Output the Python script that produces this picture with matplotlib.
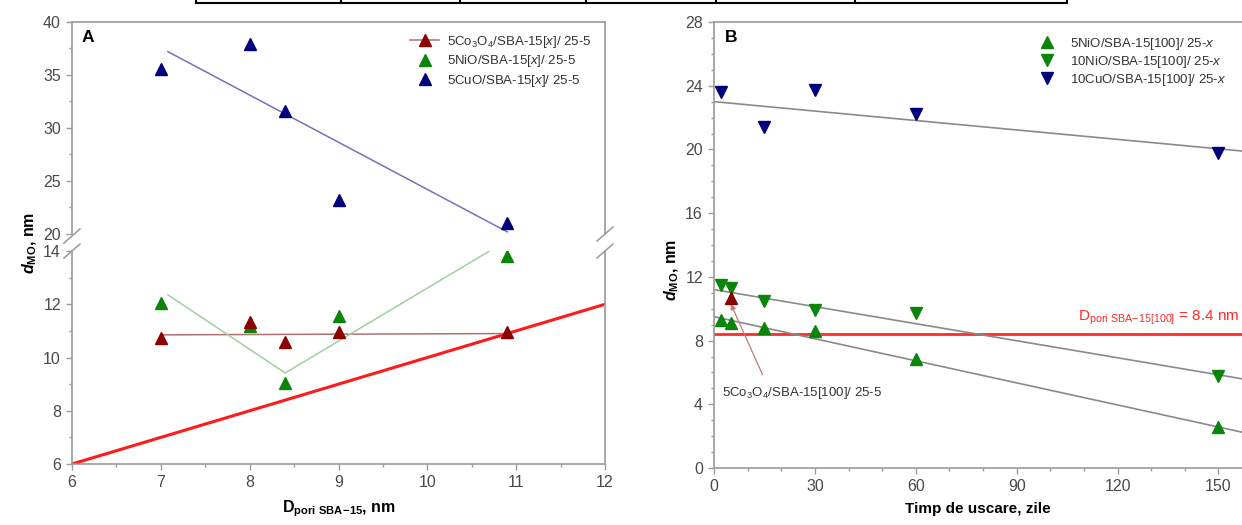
import matplotlib
matplotlib.use("Agg")
import matplotlib.pyplot as plt
from matplotlib.lines import Line2D
from matplotlib.ticker import MultipleLocator

plt.rcParams["font.family"] = ["Liberation Sans", "DejaVu Sans"]
plt.rcParams["mathtext.fontset"] = "custom"
plt.rcParams["mathtext.rm"] = "Liberation Sans"
plt.rcParams["mathtext.it"] = "Liberation Sans:bold:italic"
plt.rcParams["mathtext.bf"] = "Liberation Sans:bold"
plt.rcParams["mathtext.sf"] = "Liberation Sans:italic"

# panel A: crystallite size vs pore diameter of the support
pore_a = [7, 8, 8.4, 9, 10.9]
co_a = [10.75, 11.35, 10.6, 10.95, 10.95]
ni_a = [12.05, 11.2, 9.05, 11.55, 13.8]
cu_a = [35.6, 37.9, 31.6, 23.2, 21.0]

co_fit_x, co_fit_y = [7.0, 10.9], [10.85, 10.9]
ni_fit_x, ni_fit_y = [7.08, 8.4, 10.9], [12.35, 9.42, 14.4]
cu_fit_x, cu_fit_y = [7.08, 10.9], [37.2, 20.2]
diag_x = [6, 12]

# panel B: crystallite size vs drying time
days_ni5 = [2, 5, 15, 30, 60, 150]
ni5 = [9.3, 9.1, 8.8, 8.6, 6.85, 2.55]
days_ni10 = [2, 5, 15, 30, 60, 150]
ni10 = [11.5, 11.3, 10.5, 9.9, 9.7, 5.75]
days_cu10 = [2, 15, 30, 60, 150]
cu10 = [23.6, 21.4, 23.7, 22.2, 19.8]
days_co5, co5 = [5], [10.7]

fit_x_b = [0, 157]
cu10_fit = [23.0, 19.9]
ni10_fit = [11.2, 5.6]
ni5_fit = [9.5, 2.25]
pore_b = 8.4

RED_D = "#8b0000"
GREEN = "#0a850a"
NAVY = "#00007a"
SPINE = "#9a9a9a"
TICKC = "#4a4a4a"
W, H = 1242, 525

fig = plt.figure(figsize=(W / 100, H / 100), dpi=100)


def box(x0, y0, x1, y1):
    return [x0 / W, 1 - y1 / H, (x1 - x0) / W, (y1 - y0) / H]


ax_top = fig.add_axes(box(72, 22, 605, 234))
ax_bot = fig.add_axes(box(72, 251, 605, 464))
ax_b = fig.add_axes(box(714, 22, 1242, 468))


def style(ax):
    for s in ax.spines.values():
        s.set_color(SPINE)
        s.set_linewidth(1.2)
    ax.tick_params(which="both", direction="out", color=SPINE, labelcolor=TICKC,
                   labelsize=11.5, width=1)
    ax.tick_params(which="major", length=4, pad=4)
    ax.tick_params(which="minor", length=2.5)
    ax.tick_params(top=False, right=False)


for ax in (ax_top, ax_bot, ax_b):
    style(ax)

# ----- panel A -----
ax_top.set_xlim(6, 12)
ax_top.set_ylim(20, 40)
ax_top.yaxis.set_major_locator(MultipleLocator(5))
ax_top.yaxis.set_minor_locator(MultipleLocator(2.5))
ax_top.spines["bottom"].set_visible(False)
ax_top.tick_params(axis="x", which="both", bottom=False, labelbottom=False)

ax_bot.set_xlim(6, 12)
ax_bot.set_ylim(6, 14)
ax_bot.yaxis.set_major_locator(MultipleLocator(2))
ax_bot.yaxis.set_minor_locator(MultipleLocator(1))
ax_bot.xaxis.set_major_locator(MultipleLocator(1))
ax_bot.xaxis.set_minor_locator(MultipleLocator(0.5))
ax_bot.spines["top"].set_visible(False)

ax_bot.plot(diag_x, diag_x, color="#ff1a1a", lw=2.2, zorder=2)
ax_bot.plot(co_fit_x, co_fit_y, color="#b07070", lw=1.1, zorder=2)
ax_bot.plot(ni_fit_x, ni_fit_y, color="#9fd09f", lw=1.1, zorder=2)
ax_top.plot(cu_fit_x, cu_fit_y, color="#7272bc", lw=1.1, zorder=2)

ax_bot.plot(pore_a, ni_a, "^", color=GREEN, ms=8, zorder=3)
ax_bot.plot(pore_a, co_a, "^", color=RED_D, ms=8, zorder=4)
ax_top.plot(pore_a, cu_a, "^", color=NAVY, ms=8, zorder=3)

ax_top.text(0.018, 0.925, "A", transform=ax_top.transAxes, fontsize=12.5,
            fontweight="bold", va="center")

handles_a = [
    Line2D([], [], color="#b07070", lw=1.1, marker="^", mfc=RED_D, mec=RED_D, ms=8),
    Line2D([], [], ls="none", marker="^", color=GREEN, ms=8),
    Line2D([], [], ls="none", marker="^", color=NAVY, ms=8),
]
labels_a = [r"5Co$_3$O$_4$/SBA-15[$\mathsf{x}$]/ 25-5",
            r"5NiO/SBA-15[$\mathsf{x}$]/ 25-5",
            r"5CuO/SBA-15[$\mathsf{x}$]/ 25-5"]
fig.legend(handles_a, labels_a, loc="upper left", bbox_to_anchor=(410 / W, 1 - 34 / H),
           frameon=False, fontsize=9.5, handlelength=2.2, handletextpad=0.6,
           labelspacing=0.25, borderpad=0, borderaxespad=0, labelcolor="#333333")

ax_bot.set_xlabel(r"D$_{\mathbf{pori\ SBA\!-\!15}}$, nm", fontsize=11.5, fontweight="bold",
                  labelpad=6)
fig.text(30 / W, 1 - 243 / H, r"$\mathit{d}_{\mathbf{MO}}$, nm", rotation=90,
         fontsize=11.5, fontweight="bold", ha="center", va="center")

# axis break marks
for (px, py) in [(72, 236), (72, 251), (605, 234), (605, 251)]:
    fig.add_artist(Line2D([(px - 8) / W, (px + 8) / W], [1 - (py + 7) / H, 1 - (py - 7) / H],
                          color=SPINE, lw=1.1))

# ----- panel B -----
ax_b.set_xlim(0, 157)
ax_b.set_ylim(0, 28)
ax_b.xaxis.set_major_locator(MultipleLocator(30))
ax_b.xaxis.set_minor_locator(MultipleLocator(10))
ax_b.yaxis.set_major_locator(MultipleLocator(4))
ax_b.yaxis.set_minor_locator(MultipleLocator(1))
ax_b.spines["right"].set_visible(False)

ax_b.axhline(pore_b, color="#ff2a2a", lw=2, zorder=2)
ax_b.plot(fit_x_b, cu10_fit, color="#8a8a8a", lw=1.2, zorder=2)
ax_b.plot(fit_x_b, ni10_fit, color="#8a8a8a", lw=1.2, zorder=2)
ax_b.plot(fit_x_b, ni5_fit, color="#8a8a8a", lw=1.2, zorder=2)

ax_b.plot(days_ni5, ni5, "^", color=GREEN, ms=8, zorder=3, clip_on=False)
ax_b.plot(days_ni10, ni10, "v", color=GREEN, ms=8, zorder=3, clip_on=False)
ax_b.plot(days_cu10, cu10, "v", color=NAVY, ms=8, zorder=3, clip_on=False)
ax_b.plot(days_co5, co5, "^", color=RED_D, ms=8, zorder=4)

ax_b.text(0.02, 0.965, "B", transform=ax_b.transAxes, fontsize=12.5,
          fontweight="bold", va="center")
ax_b.text(156.3, 8.85, r"D$_{\mathrm{pori\ SBA\!-\!15[100]}}$ = 8.4 nm", color="#ff2a2a",
          fontsize=11, va="bottom", ha="right")
ax_b.annotate(r"5Co$_3$O$_4$/SBA-15[100]/ 25-5", xy=(days_co5[0], co5[0] - 0.4),
              xytext=(2.5, 4.7), fontsize=9.5, color="#333333", va="center", ha="left",
              arrowprops=dict(arrowstyle="-|>", color="#c07a7a", lw=0.9,
                              shrinkA=6, shrinkB=0, mutation_scale=8,
                              relpos=(0.28, 1.0)))

handles_b = [
    Line2D([], [], ls="none", marker="^", color=GREEN, ms=8),
    Line2D([], [], ls="none", marker="v", color=GREEN, ms=8),
    Line2D([], [], ls="none", marker="v", color=NAVY, ms=8),
]
labels_b = [r"5NiO/SBA-15[100]/ 25-$\mathsf{x}$",
            r"10NiO/SBA-15[100]/ 25-$\mathsf{x}$",
            r"10CuO/SBA-15[100]/ 25-$\mathsf{x}$"]
fig.legend(handles_b, labels_b, loc="upper left", bbox_to_anchor=(1038 / W, 1 - 36 / H),
           frameon=False, fontsize=9.5, handlelength=1.4, handletextpad=1.0,
           labelspacing=0.15, borderpad=0, borderaxespad=0, labelcolor="#333333")

ax_b.set_xlabel("Timp de uscare, zile", fontsize=11, fontweight="bold", labelpad=6)
fig.text(672 / W, 1 - 270 / H, r"$\mathit{d}_{\mathbf{MO}}$, nm", rotation=90,
         fontsize=11.5, fontweight="bold", ha="center", va="center")

# fragment of the table border above the figure
tx = [196, 341, 460, 586, 716, 855, 1067]
fig.add_artist(Line2D([tx[0] / W, tx[-1] / W], [1 - 3 / H, 1 - 3 / H], color="black", lw=1.5))
for x in tx:
    fig.add_artist(Line2D([x / W, x / W], [1 - 3 / H, 1.0], color="black", lw=1.5))

fig.savefig("out.png", dpi=100)
